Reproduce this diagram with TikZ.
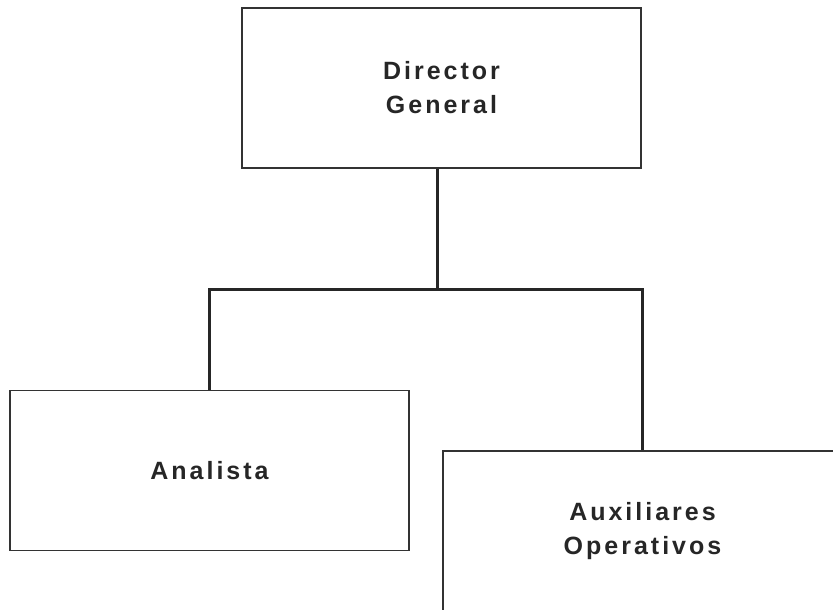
\documentclass[tikz,border=0pt]{standalone}
\usepackage{fontspec}
\newfontfamily\orgfont[LetterSpace=12]{Liberation Sans}
\tikzset{
	puesto/.style={draw=black!80, line width=1.3pt, minimum width=399pt, minimum height=160pt,
		inner sep=0pt, align=center, text=black!85,
		font=\orgfont\bfseries\fontsize{25}{34}\selectfont},
	linea/.style={draw=black!85, line width=3pt}
}
\begin{document}
\begin{tikzpicture}[x=1pt,y=-1pt]
	\clip (0,0) rectangle (833,610);
	\node [puesto] (dir) at (441.5,88){Director\\General};
	\node [puesto] (ana) at (209.5,470.5){Analista};
	\node [puesto] (aux) at (642.5,531){Auxiliares\\Operativos};
	\coordinate (bar) at (437,289);
	\draw [linea] ([xshift=-4.5pt]dir.south) -- (bar);
	\draw [linea] (ana.north) |- (bar) -| (aux.north);
\end{tikzpicture}
\end{document}
